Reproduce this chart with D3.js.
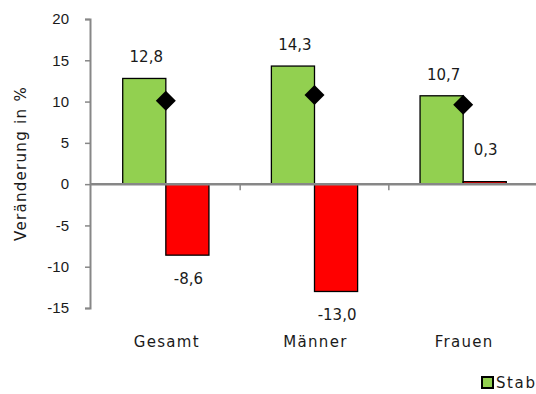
<!DOCTYPE html>
<html><head><meta charset="utf-8">
<script src="https://cdn.jsdelivr.net/npm/d3@7"></script>
<style>
html,body{margin:0;padding:0;background:#fff;overflow:hidden;}
svg{display:block;font-family:"Century Gothic","URW Gothic","DejaVu Sans",sans-serif;}
</style></head>
<body>
<svg id="chart" width="536" height="394"></svg>
<script>
const categories = ["Gesamt", "Männer", "Frauen"];
const seriesNames = ["Stab", "Neg"];
const greenValues = [12.8, 14.3, 10.7];
const redValues = [-8.6, -13.0, 0.3];
const diamondValues = [10.1, 10.8, 9.6];
const yTicks = [20, 15, 10, 5, 0, -5, -10, -15];
const legendLabel = "Stab";
const yTitle = "Veränderung in %";

const svg = d3.select("#chart");
const fmt = v => v.toFixed(1).replace(".", ",");
const txt = "#1a1a1a";

const y = d3.scaleLinear().domain([-15, 20]).range([308, 19]);
const x0 = d3.scaleBand().domain(categories).range([91.5, 537.5]).padding(0);
const bw = x0.bandwidth();
const x1 = d3.scaleBand().domain(seriesNames).range([bw * 0.21, bw * 0.79]).padding(0);

const rows = categories.map((c, i) => ({c, g: greenValues[i], r: redValues[i], d: diamondValues[i]}));

// y axis
const yAxis = d3.axisLeft(y).tickValues(yTicks).tickSize(5).tickPadding(16).tickFormat(d => d);
const ya = svg.append("g").attr("transform", "translate(90,0)").call(yAxis);
ya.select(".domain").attr("stroke", "#878787").attr("stroke-width", 2);
ya.selectAll(".tick line").attr("stroke", "#878787").attr("stroke-width", 1.5);
ya.selectAll(".tick text").attr("font-size", 15).attr("fill", txt).attr("font-family", "inherit");

// y title
svg.append("text")
  .attr("transform", `translate(21,${(y(20)+y(-15))/2}) rotate(-90)`)
  .attr("text-anchor", "middle").attr("dominant-baseline", "central")
  .attr("letter-spacing", 1.3)
  .attr("font-size", 15).attr("fill", txt).text(yTitle);

// bars
const groups = svg.append("g").selectAll("g").data(rows).join("g")
  .attr("transform", d => `translate(${x0(d.c)},0)`);

groups.append("rect")
  .attr("x", x1("Stab")).attr("width", x1.bandwidth())
  .attr("y", d => y(Math.max(0, d.g))).attr("height", d => Math.abs(y(d.g) - y(0)))
  .attr("fill", "#92D050").attr("stroke", "#000").attr("stroke-width", 1.3);
groups.append("rect")
  .attr("x", x1("Neg")).attr("width", x1.bandwidth())
  .attr("y", d => y(Math.max(0, d.r))).attr("height", d => Math.abs(y(d.r) - y(0)))
  .attr("fill", "#FF0000").attr("stroke", "#000").attr("stroke-width", 1.3);

// zero line with category ticks
svg.append("line").attr("x1", 90).attr("x2", 536).attr("y1", y(0)).attr("y2", y(0))
  .attr("stroke", "#878787").attr("stroke-width", 2.5);
svg.append("g").selectAll("line").data(categories.slice(1)).join("line")
  .attr("x1", d => x0(d)).attr("x2", d => x0(d))
  .attr("y1", y(0)).attr("y2", y(0) + 6)
  .attr("stroke", "#878787").attr("stroke-width", 1.5);

// category labels
svg.append("g").selectAll("text").data(categories).join("text")
  .attr("x", d => x0(d) + bw / 2 + 1).attr("y", 342)
  .attr("text-anchor", "middle").attr("dominant-baseline", "central")
  .attr("letter-spacing", 1.3)
  .attr("font-size", 15).attr("fill", txt).text(d => d);

// diamonds
const diamond = d3.symbol().type(d3.symbolSquare).size(200);
groups.append("path").attr("d", diamond)
  .attr("transform", d => `translate(${bw/2},${y(d.d)}) rotate(45)`)
  .attr("fill", "#000");

// value labels
function labelY(v) {
  if (v >= 0) return Math.min(y(v) - 21, y(0) - 34);
  return y(v) + 24;
}
groups.append("text")
  .attr("x", x1("Stab") + x1.bandwidth() / 2 + 2).attr("y", d => labelY(d.g))
  .attr("text-anchor", "middle").attr("dominant-baseline", "central")
  .attr("font-size", 15).attr("fill", txt).text(d => fmt(d.g));
groups.append("text")
  .attr("x", x1("Neg") + x1.bandwidth() / 2 + 1).attr("y", d => labelY(d.r))
  .attr("text-anchor", "middle").attr("dominant-baseline", "central")
  .attr("font-size", 15).attr("fill", txt).text(d => fmt(d.r));

// legend
const lg = svg.append("g").attr("transform", "translate(482,377)");
lg.append("rect").attr("width", 11).attr("height", 11)
  .attr("fill", "#92D050").attr("stroke", "#000").attr("stroke-width", 2);
lg.append("text").attr("x", 14).attr("y", 6).attr("dominant-baseline", "central")
  .attr("letter-spacing", 1.6)
  .attr("font-size", 15).attr("fill", txt).text(legendLabel);
</script>
</body></html>
